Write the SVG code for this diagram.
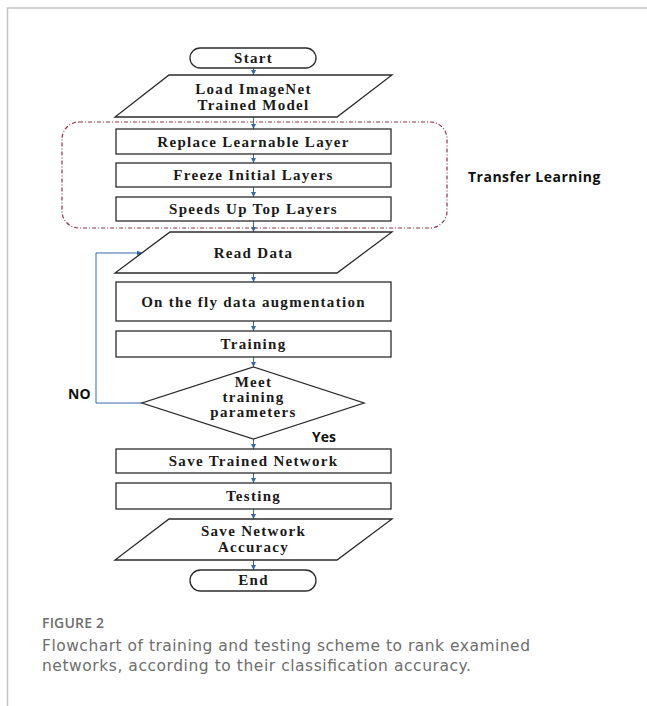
<svg xmlns="http://www.w3.org/2000/svg" width="647" height="706" viewBox="0 0 647 706">
<defs>
<style>
.bg{fill:#ffffff}
.frame{fill:none;stroke:#c4c4c4;stroke-width:1.5}
.node{fill:#ffffff;stroke:#2b2b2b;stroke-width:1.3}
.t{font-family:"Liberation Serif","Times New Roman",serif;font-weight:700;font-size:15px;letter-spacing:1.3px;fill:#1a1a1a;text-anchor:middle}
.s{font-family:"Open Sans","Liberation Sans",sans-serif;font-weight:700;font-size:14px;fill:#111111}
.group{fill:none;stroke:#8e3444;stroke-width:1.2;stroke-dasharray:4 2 1 2}
.conn{fill:none;stroke:#3468a8;stroke-width:1}
.cap{fill:#6e6e6e}
</style>
<marker id="ah" viewBox="0 0 6 6" refX="6" refY="3" markerWidth="5" markerHeight="5" markerUnits="userSpaceOnUse" orient="auto">
<path d="M0,0 L6,3 L0,6 z" fill="#3468a8"/>
</marker>
</defs>
<rect class="bg" x="0" y="0" width="647" height="706"/>
<path class="frame" d="M7.5,706 L7.5,8 L647,8"/>

<g id="transfer-learning-group">
<rect class="group" x="62" y="122" width="385" height="106" rx="17" ry="17"/>
<text class="s" x="468" y="182" style="letter-spacing:0.5px">Transfer Learning</text>
</g>

<g id="connectors">
<line class="conn" x1="253.5" y1="68" x2="253.5" y2="75" marker-end="url(#ah)"/>
<line class="conn" x1="253.5" y1="117" x2="253.5" y2="129" marker-end="url(#ah)"/>
<line class="conn" x1="253.5" y1="154" x2="253.5" y2="163" marker-end="url(#ah)"/>
<line class="conn" x1="253.5" y1="187" x2="253.5" y2="197" marker-end="url(#ah)"/>
<line class="conn" x1="253.5" y1="221" x2="253.5" y2="232" marker-end="url(#ah)"/>
<line class="conn" x1="253.5" y1="273" x2="253.5" y2="282" marker-end="url(#ah)"/>
<line class="conn" x1="253.5" y1="321" x2="253.5" y2="331" marker-end="url(#ah)"/>
<line class="conn" x1="253.5" y1="357" x2="253.5" y2="367" marker-end="url(#ah)"/>
<line class="conn" x1="253.5" y1="439" x2="253.5" y2="449" marker-end="url(#ah)"/>
<line class="conn" x1="253.5" y1="473" x2="253.5" y2="483" marker-end="url(#ah)"/>
<line class="conn" x1="253.5" y1="509" x2="253.5" y2="519" marker-end="url(#ah)"/>
<line class="conn" x1="253.5" y1="560" x2="253.5" y2="570" marker-end="url(#ah)"/>
<path class="conn" d="M142,403 L96,403 L96,253 L142,253" marker-end="url(#ah)"/>
<text class="s" x="68" y="399">NO</text>
<text class="s" x="312" y="442">Yes</text>
</g>

<g id="start">
<rect class="node" x="190" y="48" width="126" height="20" rx="10" ry="10"/>
<text class="t" x="253.5" y="62.5">Start</text>
</g>

<g id="load-model">
<polygon class="node" points="169,75 392,75 337,117 115,117"/>
<text class="t" x="253.5" y="94">Load ImageNet</text>
<text class="t" x="253.5" y="109.5">Trained Model</text>
</g>

<g id="replace-layer">
<rect class="node" x="116" y="129" width="275" height="25"/>
<text class="t" x="253.5" y="146.5">Replace Learnable Layer</text>
</g>

<g id="freeze-layers">
<rect class="node" x="116" y="163" width="275" height="24"/>
<text class="t" x="253.5" y="180">Freeze Initial  Layers</text>
</g>

<g id="speeds-up">
<rect class="node" x="116" y="197" width="275" height="24"/>
<text class="t" x="253.5" y="214">Speeds Up Top Layers</text>
</g>

<g id="read-data">
<polygon class="node" points="170,232 392,232 337,273 115,273"/>
<text class="t" x="253.5" y="257.5">Read Data</text>
</g>

<g id="augmentation">
<rect class="node" x="116" y="282" width="275" height="39"/>
<text class="t" x="253.5" y="307">On the fly data augmentation</text>
</g>

<g id="training">
<rect class="node" x="116" y="331" width="275" height="26"/>
<text class="t" x="253.5" y="348.5">Training</text>
</g>

<g id="decision">
<polygon class="node" points="253.5,367 364,403 253.5,439 142,403"/>
<text class="t" x="253.5" y="387">Meet</text>
<text class="t" x="253.5" y="402">training</text>
<text class="t" x="253.5" y="417">parameters</text>
</g>

<g id="save-network">
<rect class="node" x="116" y="449" width="275" height="24"/>
<text class="t" x="253.5" y="465.5">Save Trained Network</text>
</g>

<g id="testing">
<rect class="node" x="116" y="483" width="275" height="26"/>
<text class="t" x="253.5" y="500.5">Testing</text>
</g>

<g id="save-accuracy">
<polygon class="node" points="169,519 392,519 337,560 115,560"/>
<text class="t" x="253.5" y="536">Save Network</text>
<text class="t" x="253.5" y="552">Accuracy</text>
</g>

<g id="end">
<rect class="node" x="190" y="570" width="126" height="21" rx="10.5" ry="10.5"/>
<text class="t" x="253.5" y="585">End</text>
</g>

<g id="caption">
<text class="cap" x="42" y="628" style="font-family:'Open Sans','Liberation Sans',sans-serif;font-size:14px;font-weight:600" textLength="62" lengthAdjust="spacing">FIGURE 2</text>
<text class="cap" x="42" y="651" style="font-family:'DejaVu Sans','Liberation Sans',sans-serif;font-size:15.5px;font-weight:400" textLength="488" lengthAdjust="spacing">Flowchart of training and testing scheme to rank examined</text>
<text class="cap" x="42" y="671" style="font-family:'DejaVu Sans','Liberation Sans',sans-serif;font-size:15.5px;font-weight:400" textLength="429" lengthAdjust="spacing">networks, according to their classification accuracy.</text>
</g>
</svg>
